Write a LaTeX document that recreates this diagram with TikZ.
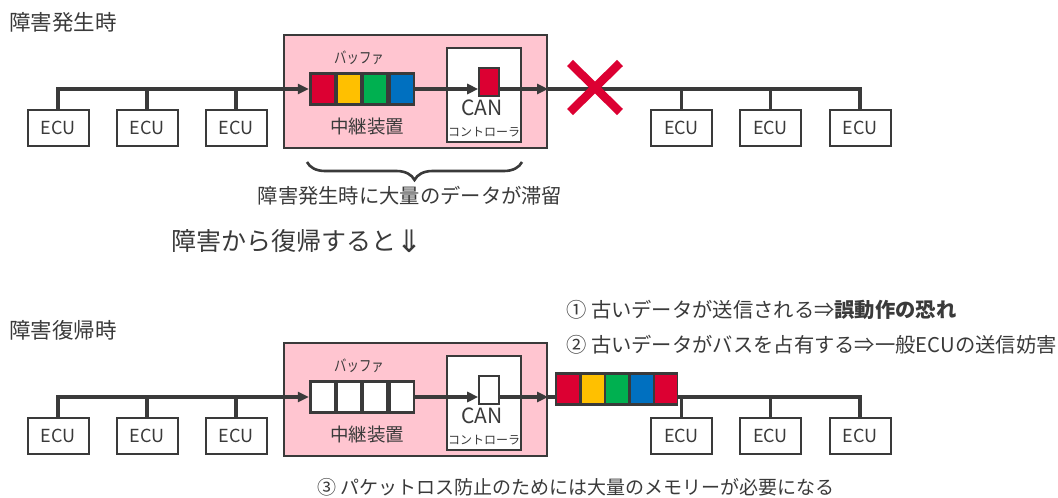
\documentclass[tikz,border=0pt]{standalone}
\usepackage{fontspec}
\setmainfont{Noto Sans CJK JP}
\newfontfamily\djv{DejaVu Sans}
\usetikzlibrary{arrows.meta,decorations.pathreplacing}
\definecolor{ink}{HTML}{3A3A3A}
\definecolor{relaypink}{HTML}{FFC5D0}
\definecolor{pktred}{HTML}{DC0032}
\definecolor{pktyellow}{HTML}{FFC000}
\definecolor{pktgreen}{HTML}{00B050}
\definecolor{pktblue}{HTML}{0070C0}
\begin{document}
\begin{tikzpicture}[x=1pt,y=-1pt,
  ecu/.style={draw=ink, line width=2pt, fill=white, minimum width=61pt, minimum height=36pt, inner sep=0pt, font=\fontsize{18}{18}\selectfont, text=ink},
  relay/.style={draw=ink, line width=2pt, fill=relaypink, minimum width=263pt, minimum height=113pt, inner sep=0pt},
  canbox/.style={draw=ink, line width=2pt, fill=white, minimum width=74pt, minimum height=94pt, inner sep=0pt},
  frame/.style={fill=ink, inner sep=0pt, minimum height=34pt},
  cell/.style={minimum width=22pt, minimum height=28pt, inner sep=0pt},
  blk/.style={draw=ink, line width=1.6pt, minimum width=20pt, minimum height=28pt, inner sep=0pt},
  bus/.style={draw=ink, line width=3.2pt},
  tip/.style={-{Triangle[length=11pt,width=10pt]}},
  lbl/.style={text=ink, inner sep=0pt},
  ttl/.style={font=\fontsize{21.5}{22}\selectfont},
  note/.style={font=\fontsize{20.3}{21}\selectfont},
  buflbl/.style={font=\fontsize{15.5}{16}\selectfont},
  relaylbl/.style={font=\fontsize{18.5}{19}\selectfont},
  canlbl/.style={font=\fontsize{21}{21}\selectfont},
  ctrllbl/.style={font=\fontsize{12}{12}\selectfont},
]
\useasboundingbox (0,0) rectangle (1058,498);
\fill[white] (0,0) rectangle (1058,498);

% ---------- top section ----------
\node[lbl, ttl, anchor=west] (t1) at (9,22) {障害発生時};
\node[relay] (r1) at (415.5,91.5) {};
\node[lbl, buflbl] (bl1) at (359,58) {\scalebox{0.8}[1]{バッファ}};
\node[lbl, relaylbl] (m1) at (367,127) {中継装置};
\node[frame, minimum width=106pt] (f1) at (362,89) {};
\node[cell, fill=pktred] (c11) at (322.5,89) {};
\node[cell, fill=pktyellow] (c12) at (348.5,89) {};
\node[cell, fill=pktgreen] (c13) at (375,89) {};
\node[cell, fill=pktblue] (c14) at (401.5,89) {};
\node[canbox] (k1) at (484,95) {};
\node[blk, fill=pktred] (s1) at (489,82) {};
\node[lbl, canlbl] (can1) at (482,108) {CAN};
\node[lbl, ctrllbl] (cc1) at (484,132) {コントローラ};

\node[ecu] (e1) at (58,128) {ECU};
\node[ecu] (e2) at (147,128) {ECU};
\node[ecu] (e3) at (236,128) {ECU};
\node[ecu] (e4) at (681.5,128) {ECU};
\node[ecu] (e5) at (770.5,128) {ECU};
\node[ecu] (e6) at (860,128) {ECU};

\draw[bus,tip] (e1.north) |- (f1.west);
\draw[bus] (e2.north) -- (e2.north |- f1.west);
\draw[bus] (e3.north) -- (e3.north |- f1.west);
\draw[bus,tip] (f1.east) -- (s1.west |- f1.east);
\draw[bus,tip] (s1.east |- f1.east) -- (r1.east |- f1.east);
\draw[bus] (r1.east |- f1.east) -| (e6.north);
\draw[bus] (e4.north) -- (e4.north |- f1.east);
\draw[bus] (e5.north) -- (e5.north |- f1.east);

\draw[pktred, line width=8.5pt] (570,63) -- (620,112) (620,63) -- (570,112);

\draw[ink, line width=2.6pt, decorate, decoration={brace, mirror, amplitude=18pt}] (307,162) -- (522,162);
\node[lbl, note] (bl) at (410,196) {障害発生時に大量のデータが滞留};
\node[lbl, anchor=west, font=\fontsize{25}{25}\selectfont] (rec) at (171,241) {障害から復帰すると\raisebox{-2pt}{\djv\fontsize{31}{31}\selectfont ⇓}};

% ---------- bottom section ----------
\node[lbl, ttl, anchor=west] (t2) at (9,330) {障害復帰時};
\node[lbl, note, anchor=west] (n1) at (566,310) {① 古いデータが送信される⇒\textbf{誤動作の恐れ}};
\node[lbl, note, anchor=west] (n2) at (566,345) {② 古いデータがバスを占有する⇒一般ECUの送信妨害};

\node[relay] (r2) at (415.5,399.5) {};
\node[lbl, buflbl] (bl2) at (359,366) {\scalebox{0.8}[1]{バッファ}};
\node[lbl, relaylbl] (m2) at (367,435) {中継装置};
\node[frame, minimum width=106pt] (f2) at (362,397) {};
\node[cell, fill=white] (c21) at (322.5,397) {};
\node[cell, fill=white] (c22) at (348.5,397) {};
\node[cell, fill=white] (c23) at (375,397) {};
\node[cell, fill=white] (c24) at (401.5,397) {};
\node[canbox] (k2) at (484,403) {};
\node[blk, fill=white] (s2) at (489,390) {};
\node[lbl, canlbl] (can2) at (482,416) {CAN};
\node[lbl, ctrllbl] (cc2) at (484,440) {コントローラ};

\node[frame, minimum width=123pt] (p) at (616.5,389) {};
\node[cell, fill=pktred] (p1) at (568,389) {};
\node[cell, fill=pktyellow] (p2) at (592.5,389) {};
\node[cell, fill=pktgreen] (p3) at (617,389) {};
\node[cell, fill=pktblue] (p4) at (641.5,389) {};
\node[cell, fill=pktred] (p5) at (666,389) {};

\node[ecu] (e7) at (58,436) {ECU};
\node[ecu] (e8) at (147,436) {ECU};
\node[ecu] (e9) at (236,436) {ECU};
\node[ecu] (e10) at (681.5,436) {ECU};
\node[ecu] (e11) at (770.5,436) {ECU};
\node[ecu] (e12) at (860,436) {ECU};

\draw[bus,tip] (e7.north) |- (f2.west);
\draw[bus] (e8.north) -- (e8.north |- f2.west);
\draw[bus] (e9.north) -- (e9.north |- f2.west);
\draw[bus,tip] (f2.east) -- (s2.west |- f2.east);
\draw[bus,tip] (s2.east |- f2.east) -- (r2.east |- f2.east);
\draw[bus] (r2.east |- f2.east) -- (p.west |- f2.east);
\draw[bus] (p.east |- f2.east) -| (e12.north);
\draw[bus] (e10.north) -- (e10.north |- f2.east);
\draw[bus] (e11.north) -- (e11.north |- f2.east);

\node[lbl, font=\fontsize{19}{19}\selectfont] (n3) at (576,487) {③ パケットロス防止のためには大量のメモリーが必要になる};
\end{tikzpicture}
\end{document}
